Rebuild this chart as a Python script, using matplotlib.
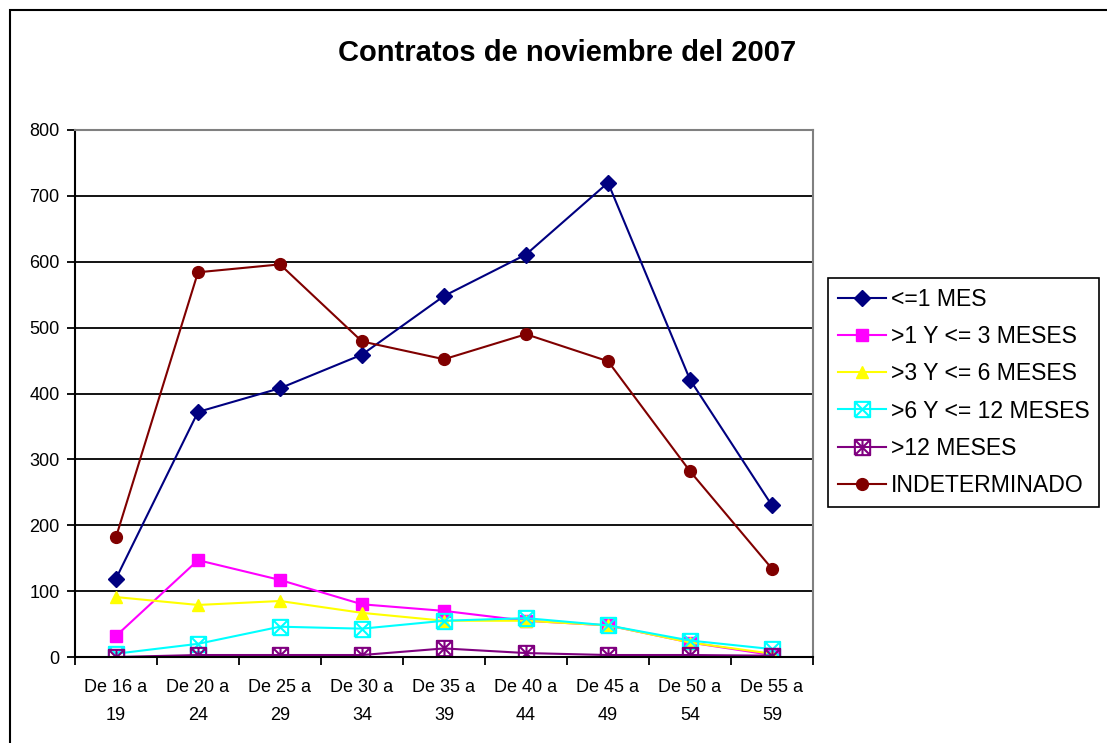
import matplotlib
matplotlib.use('Agg')
import matplotlib.pyplot as plt
from matplotlib.path import Path
from matplotlib.patches import Rectangle

plt.rcParams['font.family'] = ['Liberation Sans', 'DejaVu Sans']

# datos
grupos = ['De 16 a\n19', 'De 20 a\n24', 'De 25 a\n29', 'De 30 a\n34', 'De 35 a\n39',
          'De 40 a\n44', 'De 45 a\n49', 'De 50 a\n54', 'De 55 a\n59']
hasta_1_mes = [119, 372, 408, 459, 548, 611, 720, 421, 230]
de_1_a_3 = [32, 147, 117, 80, 70, 55, 48, 22, 3]
de_3_a_6 = [91, 79, 85, 67, 55, 55, 48, 22, 5]
de_6_a_12 = [5, 20, 46, 43, 55, 59, 48, 25, 12]
mas_12 = [0, 3, 3, 3, 13, 6, 3, 3, 2]
indeterminado = [182, 584, 596, 479, 452, 490, 449, 282, 134]

# marcadores estilo excel: cuadro con x, cuadro con asterisco
M, L = Path.MOVETO, Path.LINETO
cuadro = [(-1, -1), (1, -1), (1, 1), (-1, 1), (-1, -1)]
cod_cuadro = [M, L, L, L, L]
caja_x = Path(cuadro + [(-1, -1), (1, 1), (-1, 1), (1, -1)],
              cod_cuadro + [M, L, M, L])
caja_ast = Path(cuadro + [(-1, -1), (1, 1), (-1, 1), (1, -1), (0, -1), (0, 1)],
                cod_cuadro + [M, L, M, L, M, L])

fig = plt.figure(figsize=(11.07, 7.43), dpi=100)
ax = fig.add_axes([75/1107, 1-657/743, (813-75)/1107, (657-130)/743])

x = range(len(grupos))
ax.plot(x, hasta_1_mes, color='#000080', marker='D', ms=8, lw=1.5, label='<=1 MES')
ax.plot(x, de_1_a_3, color='#FF00FF', marker='s', ms=8, lw=1.5, label='>1 Y <= 3 MESES')
ax.plot(x, de_3_a_6, color='#FFFF00', marker='^', ms=9, lw=1.5, label='>3 Y <= 6 MESES')
ax.plot(x, de_6_a_12, color='#00FFFF', marker=caja_x, ms=11, mfc='none', mec='#00FFFF',
        mew=1.5, lw=1.5, label='>6 Y <= 12 MESES')
ax.plot(x, mas_12, color='#800080', marker=caja_ast, ms=11, mfc='none', mec='#800080',
        mew=1.5, lw=1.5, label='>12 MESES')
ax.plot(x, indeterminado, color='#800000', marker='o', ms=8.5, lw=1.5, label='INDETERMINADO')

ax.set_xlim(-0.5, len(grupos) - 0.5)
ax.set_ylim(0, 800)
ax.set_yticks(range(0, 801, 100))
ax.yaxis.grid(True, color='black', lw=1.3)
ax.set_axisbelow(True)
ax.set_xticks([i - 0.5 for i in range(len(grupos) + 1)])
ax.set_xticklabels([])
ax.set_xticks(list(x), minor=True)
ax.set_xticklabels(grupos, minor=True, fontsize=13, linespacing=1.8)
ax.tick_params(axis='x', which='minor', length=0, pad=16)
ax.tick_params(axis='x', which='major', length=6, width=1.3, direction='out')
ax.tick_params(axis='y', length=6, width=1.3, direction='out', labelsize=13, pad=5)
ax.spines['top'].set_color('#808080')
ax.spines['right'].set_color('#808080')
ax.spines['top'].set_linewidth(1.5)
ax.spines['right'].set_linewidth(1.5)
ax.spines['left'].set_linewidth(1.5)
ax.spines['bottom'].set_linewidth(1.5)

fig.text(567/1107, 1-53/743, 'Contratos de noviembre del 2007', ha='center', va='center',
         fontsize=21, fontweight='bold')

leg = fig.legend(loc='upper left', bbox_to_anchor=(828/1107, 1-278/743),
                 bbox_transform=fig.transFigure, fontsize=16.6, fancybox=False,
                 edgecolor='black', framealpha=1, borderaxespad=0, handlelength=2.1,
                 handletextpad=0.2, labelspacing=0.62, borderpad=0.42)
leg.get_frame().set_linewidth(1.2)

fig.patches.append(Rectangle((10/1107, -0.05), 1.2, (743-10)/743 + 0.05, transform=fig.transFigure,
                             fill=False, ec='black', lw=1.5))

fig.savefig('out.png', dpi=100)
